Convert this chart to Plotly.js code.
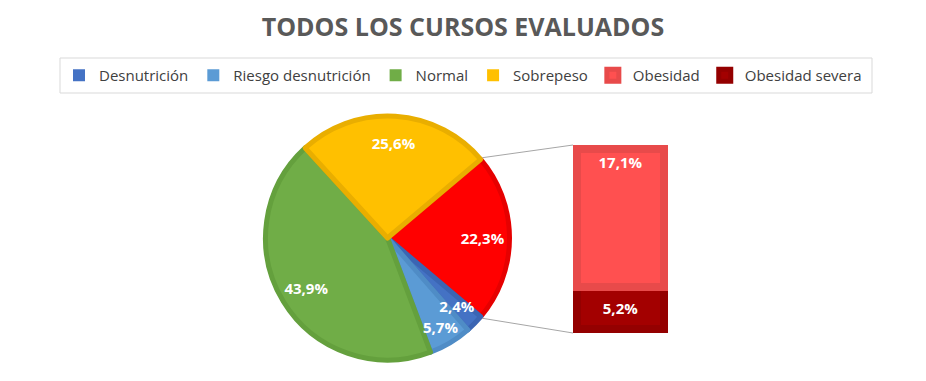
<!DOCTYPE html>
<html>
<head>
<meta charset="utf-8">
<script src="https://cdn.plot.ly/plotly-3.0.1.min.js"></script>
<style>html,body{margin:0;padding:0;background:#fff;}#chart{width:926px;height:381px;}</style>
</head>
<body>
<div id="chart"></div>
<script>
// ---- data ----
const pieLabels = ['Obesidad (total)', 'Desnutrición', 'Riesgo desnutrición', 'Normal', 'Sobrepeso'];
const pieValues = [22.3, 2.4, 5.7, 43.9, 25.6];
const barLabels = ['Obesidad severa', 'Obesidad'];
const barValues = [5.2, 17.1];
const legendLabels = ['Desnutrición', 'Riesgo desnutrición', 'Normal', 'Sobrepeso', 'Obesidad', 'Obesidad severa'];
const titleText = 'TODOS LOS CURSOS EVALUADOS';

// ---- styles ----
const W = 926, H = 381;
const pieFill = ['#FF0000', '#4472C4', '#5B9BD5', '#70AD47', '#FFC000'];
const pieEdge = ['#E60000', '#3B65B3', '#4F8CC6', '#64A03D', '#E9AE00'];
const legendColors = {'Desnutrición':'#4472C4','Riesgo desnutrición':'#5B9BD5','Normal':'#70AD47','Sobrepeso':'#FFC000','Obesidad':'#EE4B4B','Obesidad severa':'#990000'};
const barFill = {'Obesidad severa':'#A30000','Obesidad':'#FF5050'};
const barEdge = {'Obesidad severa':'#940000','Obesidad':'#E84A4A'};
const labelFont = {family: 'Open Sans', size: 15, color: '#FFFFFF', weight: 700};

// pie geometry (pixels)
const pieCx = 387.5, pieCy = 238, pieR = 122;
function pieDomain(scale) {
  const r = pieR * scale;
  return {x: [(pieCx - r) / W, (pieCx + r) / W], y: [1 - (pieCy + r) / H, 1 - (pieCy - r) / H]};
}
// bar geometry (pixels)
const barL = 573, barR = 668, barT = 145, barB = 333, barStroke = 8;
const half = barStroke / 2;

const total = pieValues.reduce((a, b) => a + b, 0);
const halfAngle = pieValues[0] / total * 360 / 2;
const rotation = 90 - halfAngle;
const smallIdx = pieLabels.indexOf('Desnutrición');

const traces = [];
// filled pie
traces.push({
  type: 'pie',
  labels: pieLabels,
  values: pieValues,
  sort: false,
  direction: 'clockwise',
  rotation: rotation,
  domain: pieDomain(1),
  marker: {colors: pieFill, line: {color: pieEdge, width: 5}},
  textinfo: 'none',
  showlegend: false,
  hoverinfo: 'label+value'
});
// transparent rings carrying the percentage labels near the rim
[{scale: 1, hole: 0.56, show: i => i !== smallIdx},
 {scale: 0.86, hole: 0.62, show: i => i === smallIdx}].forEach(ring => {
  traces.push({
    type: 'pie',
    labels: pieLabels,
    values: pieValues,
    sort: false,
    direction: 'clockwise',
    rotation: rotation,
    hole: ring.hole,
    domain: pieDomain(ring.scale),
    marker: {colors: pieLabels.map(() => 'rgba(0,0,0,0)'), line: {width: 0}},
    texttemplate: pieLabels.map((_, i) => ring.show(i) ? '%{value:.1f}%' : ''),
    textposition: 'inside',
    insidetextorientation: 'horizontal',
    textfont: labelFont,
    showlegend: false,
    hoverinfo: 'skip'
  });
});

// legend-only helpers for pie categories
legendLabels.slice(0, 4).forEach((lab, i) => {
  traces.push({
    type: 'bar', x: [0], y: [0], width: [1], name: lab, legendrank: i + 1,
    marker: {color: legendColors[lab], line: {width: 0}}, textinfo: 'none', hoverinfo: 'skip', showlegend: true
  });
});

// stacked bar
barLabels.forEach((lab, i) => {
  traces.push({
    type: 'bar',
    x: [0], y: [barValues[i]], width: [1],
    name: lab,
    legendrank: legendLabels.indexOf(lab) + 1,
    marker: {color: barFill[lab], line: {color: barEdge[lab], width: barStroke}},
    texttemplate: '%{y:.1f}%',
    textposition: 'inside',
    insidetextanchor: lab === 'Obesidad' ? 'end' : 'middle',
    textfont: labelFont,
    showlegend: true
  });
});

// axis ranges so the stroke stays inside the bar box
const pxPerUnitY = (barB - barT - barStroke) / barValues.reduce((a, b) => a + b, 0);
const padY = half / pxPerUnitY;
const pxPerUnitX = (barR - barL - barStroke);
const padX = half / pxPerUnitX;

// connector lines
const a = halfAngle * Math.PI / 180;
const p1 = [pieCx + (pieR + 2.5) * Math.cos(a), pieCy - (pieR + 2.5) * Math.sin(a)];
const p2 = [pieCx + (pieR + 2.5) * Math.cos(a), pieCy + (pieR + 2.5) * Math.sin(a)];
const shapes = [
  {type: 'line', xref: 'paper', yref: 'paper', x0: p1[0] / W, y0: 1 - p1[1] / H, x1: barL / W, y1: 1 - barT / H, line: {color: '#A6A6A6', width: 1}},
  {type: 'line', xref: 'paper', yref: 'paper', x0: p2[0] / W, y0: 1 - p2[1] / H, x1: barL / W, y1: 1 - barB / H, line: {color: '#A6A6A6', width: 1}},
  {type: 'rect', xref: 'paper', yref: 'paper', x0: 60 / W, x1: 872 / W, y0: 1 - 93 / H, y1: 1 - 58 / H, line: {color: '#D9D9D9', width: 1}, fillcolor: 'rgba(0,0,0,0)'}
];

const layout = {
  width: W, height: H,
  margin: {l: 0, r: 0, t: 0, b: 0},
  paper_bgcolor: '#FFFFFF', plot_bgcolor: 'rgba(0,0,0,0)',
  separators: ',.',
  font: {family: 'Open Sans', color: '#404040'},
  title: {text: titleText, font: {family: 'Open Sans', size: 25, color: '#595959', weight: 700}, x: 0.5, xanchor: 'center', xref: 'container', y: 1 - 27 / H, yanchor: 'middle', yref: 'container'},
  barmode: 'stack',
  xaxis: {domain: [barL / W, barR / W], range: [-0.5 - padX, 0.5 + padX], visible: false, fixedrange: true},
  yaxis: {domain: [1 - barB / H, 1 - barT / H], range: [-padY, barValues[0] + barValues[1] + padY], visible: false, fixedrange: true},
  legend: {orientation: 'h', x: 0.5, xanchor: 'center', y: 1 - 75.5 / H, yanchor: 'middle', font: {family: 'Open Sans', size: 15, color: '#404040'}, bgcolor: 'rgba(0,0,0,0)', traceorder: 'normal', itemwidth: 30},
  uniformtext: {minsize: 15, mode: 'show'},
  shapes: shapes,
  showlegend: true
};

Plotly.newPlot('chart', traces, layout, {staticPlot: true, displayModeBar: false});
</script>
</body>
</html>
